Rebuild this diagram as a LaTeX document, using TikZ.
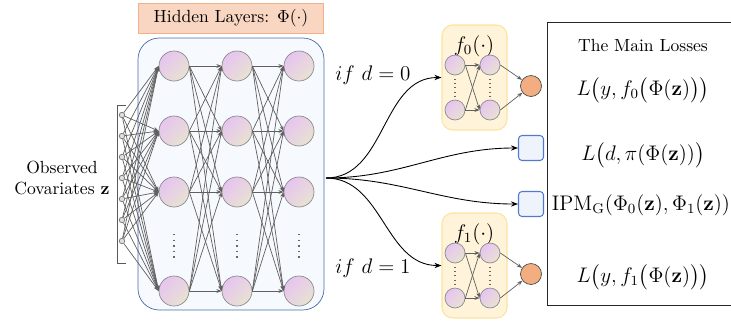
\documentclass[tikz,border=0pt]{standalone}
\usepackage{xcolor}
\usepackage{tikz}
\usetikzlibrary{arrows.meta, positioning, shapes.geometric, fit, calc, backgrounds, decorations.pathreplacing}
\usepackage{amsmath}

\definecolor{peachfill}{HTML}{F8D6C2}
\definecolor{peachline}{HTML}{F2B089}
\definecolor{netblue}{HTML}{4A6BA8}
\definecolor{netfill}{HTML}{F6F9FD}
\definecolor{nodepink}{HTML}{E6C4F0}
\definecolor{nodebeige}{HTML}{E8E2D2}
\definecolor{fboxfill}{HTML}{FFF4DA}
\definecolor{fboxline}{HTML}{FBE3A0}
\definecolor{outorange}{HTML}{F2AE80}
\definecolor{sqline}{HTML}{4E7BD0}
\definecolor{sqfill}{HTML}{EFF4FC}

\begin{document}
\begin{tikzpicture}[
        x=0.02cm, y=-0.02cm,
        neuron/.style={draw=gray!90, circle, minimum size=0.6cm, inner sep=0pt, top color=nodepink, bottom color=nodebeige, shading angle=45},
        small/.style={neuron, minimum size=0.4cm},
        inp/.style={draw=gray!90!black, circle, fill=gray!25, minimum size=0.11cm, inner sep=0pt},
        conn/.style={draw=gray!75!black, line width=0.4pt, -{Stealth[length=3pt, width=2.2pt]}},
        curve/.style={draw=black, line width=0.5pt, -{Stealth[length=4pt, width=3pt]}},
        dotcol/.style={draw=gray!80!black, line width=0.8pt, dash pattern=on 0.8pt off 2.4pt},
        fdots/.style={draw=gray!80!black, line width=0.6pt, dash pattern=on 0.6pt off 1.8pt, shorten <=2pt, shorten >=2pt},
        fbox/.style={draw=fboxline, fill=fboxfill, rounded corners=6pt, line width=0.6pt, minimum width=1.3cm, minimum height=2.1cm},
        outcirc/.style={draw=gray!60!black, circle, fill=outorange, minimum size=0.42cm, inner sep=0pt},
        sq/.style={draw=sqline, fill=sqfill, rounded corners=2pt, line width=0.6pt, minimum size=0.5cm}
    ]
        \useasboundingbox (0,0) rectangle (731,322);
        \node[draw=netblue, fill=netfill, rounded corners=12pt, minimum width=3.72cm, minimum height=5.44cm] (net) at (231,174) {};
        \node[draw=peachline, fill=peachfill, minimum width=3.7cm, minimum height=0.6cm] (title) at (231,18) {Hidden Layers: $\Phi(\cdot)$};
        \node[align=center] (obs) at (62,178) {Observed\\Covariates $\mathbf{z}$};
        
        \foreach \c/\x in {1/174, 2/237, 3/299} {
            \foreach \r/\y in {1/66, 2/131, 3/192, 4/291}
                \node[neuron] (h\c\r) at (\x,\y) {};
            \draw[dotcol] (\x,234) -- (\x,258);
        }
        \foreach \i/\y in {1/115, 2/136, 3/157, 4/178, 5/199, 6/220, 7/241}
            \node[inp] (x\i) at (122,\y) {};
        \draw[gray!70!black] (126,105) -- (117,105) -- (117,263) -- (126,263);
        
        \foreach \i in {1,...,7}
            \foreach \r in {1,...,4}
                \draw[conn] (x\i) -- (h1\r.west);
        \foreach \c/\n in {1/2, 2/3}
            \foreach \r in {1,...,4}
                \foreach \s in {1,...,4}
                    \draw[conn] (h\c\r.east) -- (h\n\s.west);
        
        \foreach \k/\yo in {0/0, 1/188} {
            \node[fbox] (f\k box) at (474.5,77.5+\yo) {};
            \node (f\k lab) at (474,46+\yo) {\large $f_\k(\cdot)$};
            \node[small] (a\k1) at (455,65+\yo) {};
            \node[small] (a\k2) at (455,110+\yo) {};
            \node[small] (b\k1) at (490,65+\yo) {};
            \node[small] (b\k2) at (490,110+\yo) {};
            \draw[fdots] (a\k1) -- (a\k2);
            \draw[fdots] (b\k1) -- (b\k2);
            \node[outcirc] (y\k) at (531,86+\yo) {};
            \foreach \p in {1,2} {
                \foreach \q in {1,2}
                    \draw[conn] (a\k\p.east) -- (b\k\q.west);
                \draw[conn] (b\k\p.east) -- (y\k);
            }
        }
        
        \node[sq] (pi) at (531,148) {};
        \node[sq] (ipm) at (531,204) {};
        \coordinate (split) at (326,178);
        \draw[curve] (split) to[out=0, in=180] (f0box.west);
        \draw[curve] (split) to[out=0, in=180] (pi.west);
        \draw[curve] (split) to[out=0, in=180] (ipm.west);
        \draw[curve] (split) to[out=0, in=180] (f1box.west);
        \node (ifzero) at (373,75) {\large $if~d=0$};
        \node (ifone) at (373,268) {\large $if~d=1$};
        
        \node[draw=gray!30!black, line width=0.6pt, anchor=north west, minimum width=4cm, minimum height=5.66cm] (losses) at (547,22) {};
        \node (head) at (643,45) {The Main Losses};
        \node (ly0) at (643,90) {\large $L\big(y,f_0\big(\Phi(\mathbf{z})\big)\big)$};
        \node (ld) at (643,155) {\large $L\big(d,\pi(\Phi(\mathbf{z}))\big)$};
        \node (lipm) at (641,205) {\large $\mathrm{IPM}_{\mathrm{G}}(\Phi_0(\mathbf{z}),\Phi_1(\mathbf{z}))$};
        \node (ly1) at (643,277) {\large $L\big(y,f_1\big(\Phi(\mathbf{z})\big)\big)$};
    \end{tikzpicture}
\end{document}
